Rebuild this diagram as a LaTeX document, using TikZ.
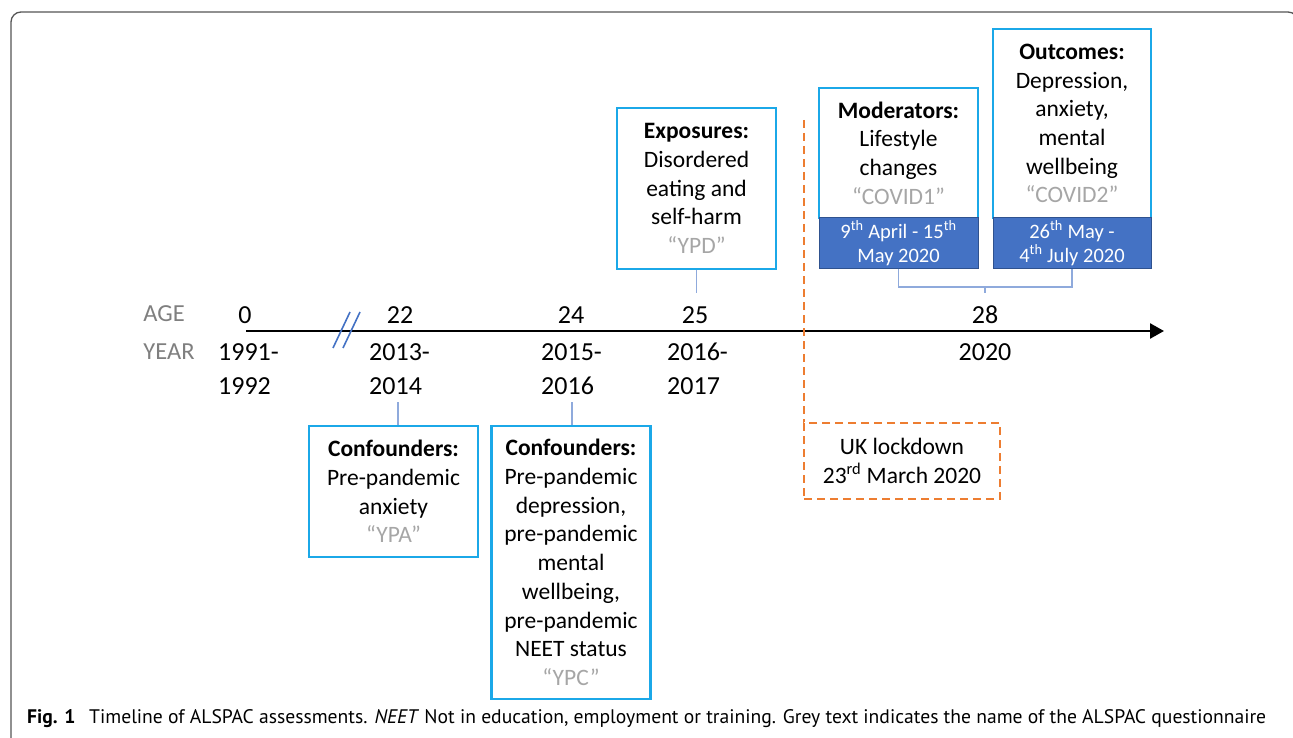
\documentclass[tikz,border=0pt]{standalone}
\usepackage{fontspec}
\usepackage{graphicx}
\setmainfont{Carlito}
\newfontfamily\capfont{PT Sans}
\usetikzlibrary{arrows.meta}
\definecolor{cyanb}{HTML}{1BA8E8}
\definecolor{bandf}{HTML}{4472C4}
\definecolor{bandd}{HTML}{2F528F}
\definecolor{lblue}{HTML}{8FAADC}
\definecolor{orng}{HTML}{ED7D31}
\definecolor{qgrey}{HTML}{A6A6A6}
\definecolor{agrey}{HTML}{7F7F7F}
\definecolor{slashc}{HTML}{4472C4}
\definecolor{framec}{HTML}{555555}
\newcommand\boxfont{\fontsize{23.5}{28.7}\selectfont}
\newcommand\bandfont{\fontsize{20.5}{24}\selectfont}
\newcommand\axfont{\fontsize{26}{34}\selectfont}
\newcommand\qgr[1]{{\color{qgrey}#1}}
\begin{document}
\begin{tikzpicture}[x=1pt,y=-1pt,
  bx/.style={draw=cyanb,line width=2.5pt,fill=white,align=center,inner sep=0pt,font=\boxfont},
  bandbox/.style={draw=bandd,line width=1pt,fill=bandf,text=white,align=center,inner sep=0pt,font=\bandfont},
  lockbox/.style={draw=orng,line width=2pt,dash pattern=on 8pt off 5pt,align=center,inner sep=0pt,font=\boxfont},
  lk/.style={draw=lblue,line width=1.5pt},
  axlab/.style={font=\axfont,inner sep=0pt},
  yrlab/.style={font=\axfont,inner sep=0pt,align=left,anchor=west},
  side/.style={font=\fontsize{24.5}{30}\selectfont,text=agrey,inner sep=0pt}]
\useasboundingbox (0,0) rectangle (1293,738);
\clip (0,0) rectangle (1293,738);
% frame
\draw[framec,line width=1.3pt,rounded corners=10pt] (11,770) -- (11,12) -- (1298,12) -- (1298,770);

% axis
\coordinate (axs) at (246,331);
\coordinate (axe) at (1164,331);
\draw[line width=2.5pt,-{Triangle[length=14pt,width=15pt]}] (axs) -- (axe);
% break marks
\draw[slashc,line width=1.6pt] (333,348) -- (350,312);
\draw[slashc,line width=1.6pt] (343,348) -- (360,312);

% side labels
\node[side] (age) at (164,314) {AGE};
\node[side] (year) at (169,352) {YEAR};

% ages
\node[axlab] (a0) at (245,315) {0};
\node[axlab] (a22) at (400,315) {22};
\node[axlab] (a24) at (571,315) {24};
\node[axlab] (a25) at (695,315) {25};
\node[axlab] (a28) at (985,315) {28};

% years
\node[yrlab] (y0) at (218,369) {1991-\\1992};
\node[yrlab] (y22) at (369,369) {2013-\\2014};
\node[yrlab] (y24) at (541,369) {2015-\\2016};
\node[yrlab] (y25) at (667,369) {2016-\\2017};
\node[axlab] (y28) at (985,352) {2020};

% lockdown
\coordinate (ltop) at (804,120);
\node[lockbox,minimum width=196pt,minimum height=76pt] (lock) at (902,461) {UK lockdown\\23\textsuperscript{rd} March 2020};
\draw[orng,line width=2pt,dash pattern=on 8pt off 5pt] (ltop) -- (ltop |- lock.north);

% exposures
\node[bx,minimum width=159pt,minimum height=161pt] (exp) at (696.5,188.5)
  {\textbf{Exposures:}\\Disordered\\eating and\\self-harm\\\qgr{“YPD”}};
\coordinate (expt) at (696.5,293);
\draw[lk] (exp.south) -- (expt);

% moderators
\node[bx,minimum width=159pt,minimum height=130pt] (mod) at (898.5,153)
  {\textbf{Moderators:}\\Lifestyle\\changes\\\qgr{“COVID1”}};
\node[bandbox,minimum width=159pt,minimum height=50pt] (modd) at (898.5,243)
  {9\textsuperscript{th} April - 15\textsuperscript{th}\\May 2020};

% outcomes
\node[bx,minimum width=158pt,minimum height=189pt] (out) at (1072,123.5)
  {\textbf{Outcomes:}\\Depression,\\anxiety,\\mental\\wellbeing\\\qgr{“COVID2”}};
\node[bandbox,minimum width=158pt,minimum height=50pt] (outd) at (1072,243)
  {26\textsuperscript{th} May -\\4\textsuperscript{th} July 2020};

% bracket
\coordinate (brm) at (985,287);
\coordinate (brs) at (985,293);
\draw[lk] (modd.south) |- (brm) -| (outd.south);
\draw[lk] (brm) -- (brs);

% confounders
\node[bx,minimum width=169pt,minimum height=131pt] (conf1) at (393.5,491.5)
  {\textbf{Confounders:}\\Pre-pandemic\\anxiety\\\qgr{“YPA”}};
\coordinate (c1t) at (398,402);
\draw[lk] (c1t) -- (c1t |- conf1.north);

\node[bx,minimum width=159pt,minimum height=273pt] (conf2) at (571,562.5)
  {\textbf{Confounders:}\\Pre-pandemic\\depression,\\pre-pandemic\\mental\\wellbeing,\\pre-pandemic\\NEET status\\\qgr{“YPC”}};
\coordinate (c2t) at (572,402);
\draw[lk] (c2t) -- (c2t |- conf2.north);

% caption
\node[anchor=west,inner sep=0pt] (cap) at (27,719) {\resizebox{1239pt}{!}{\capfont\fontsize{19}{22}\selectfont\textbf{Fig. 1}\hspace{0.7em}Timeline of ALSPAC assessments. \textit{NEET} Not in education, employment or training. Grey text indicates the name of the ALSPAC questionnaire}};
\end{tikzpicture}
\end{document}
